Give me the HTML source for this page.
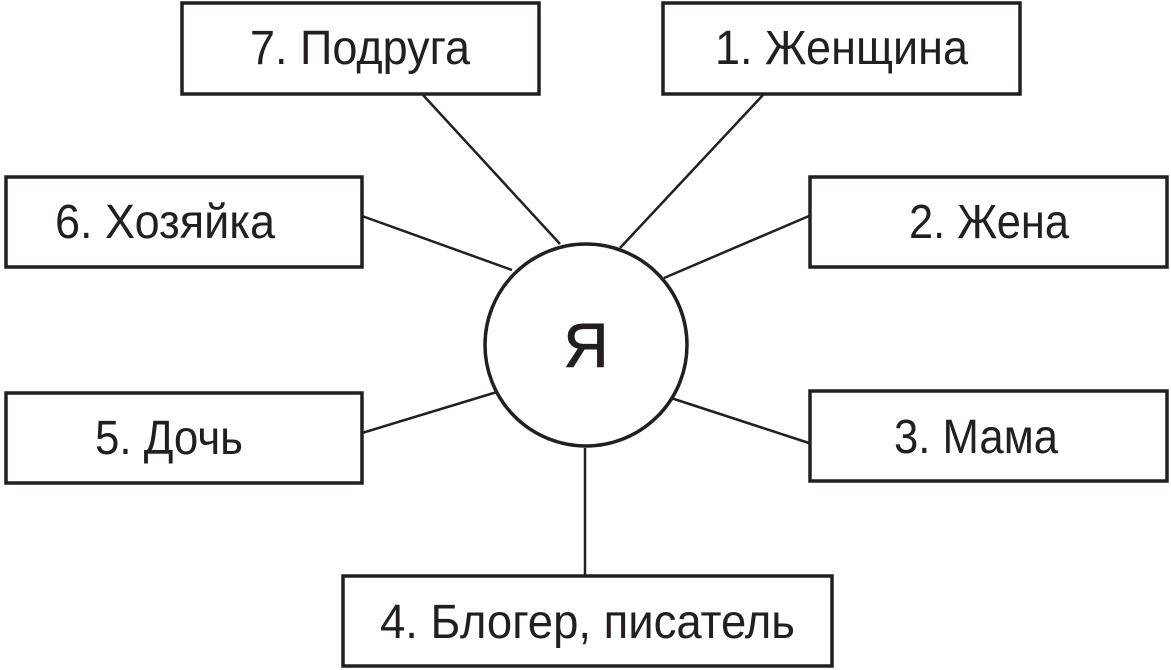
<!DOCTYPE html>
<html><head><meta charset="utf-8"><style>html,body{margin:0;padding:0;background:#fff;}svg{display:block}</style></head>
<body>
<svg width="1171" height="670" viewBox="0 0 1171 670" xmlns="http://www.w3.org/2000/svg">
<g fill="none" stroke="#231f20" stroke-width="2.5">
<line x1="423" y1="95" x2="560" y2="244"/>
<line x1="763" y1="95" x2="620" y2="248"/>
<line x1="362" y1="216" x2="512" y2="270"/>
<line x1="809" y1="216" x2="664" y2="278"/>
<line x1="362" y1="433" x2="497" y2="392"/>
<line x1="809" y1="443" x2="671" y2="398"/>
<line x1="585" y1="448" x2="585" y2="575"/>
</g>
<g fill="#fff" stroke="#231f20" stroke-width="3.5">
<rect x="182" y="3" width="357" height="91"/>
<rect x="663" y="3" width="357" height="91"/>
<rect x="6" y="177" width="356" height="90"/>
<rect x="810" y="177" width="357" height="90"/>
<rect x="6" y="393" width="356" height="90"/>
<rect x="810" y="391" width="357" height="90"/>
<rect x="343" y="576" width="489" height="90"/>
<circle cx="586" cy="345" r="101"/>
</g>
<g font-family="'Liberation Sans', sans-serif" font-size="48" fill="#231f20">
<text x="250" y="64" textLength="220" lengthAdjust="spacingAndGlyphs">7. Подруга</text>
<text x="715" y="64" textLength="253" lengthAdjust="spacingAndGlyphs">1. Женщина</text>
<text x="55" y="238" textLength="220" lengthAdjust="spacingAndGlyphs">6. Хозяйка</text>
<text x="909" y="238" textLength="160" lengthAdjust="spacingAndGlyphs">2. Жена</text>
<text x="95" y="454" textLength="148" lengthAdjust="spacingAndGlyphs">5. Дочь</text>
<text x="894" y="453" textLength="164" lengthAdjust="spacingAndGlyphs">3. Мама</text>
<text x="380" y="638" textLength="415" lengthAdjust="spacingAndGlyphs">4. Блогер, писатель</text>
<text x="586" y="367" text-anchor="middle" font-size="62" stroke="#231f20" stroke-width="1">Я</text>
</g>
</svg>
</body></html>
